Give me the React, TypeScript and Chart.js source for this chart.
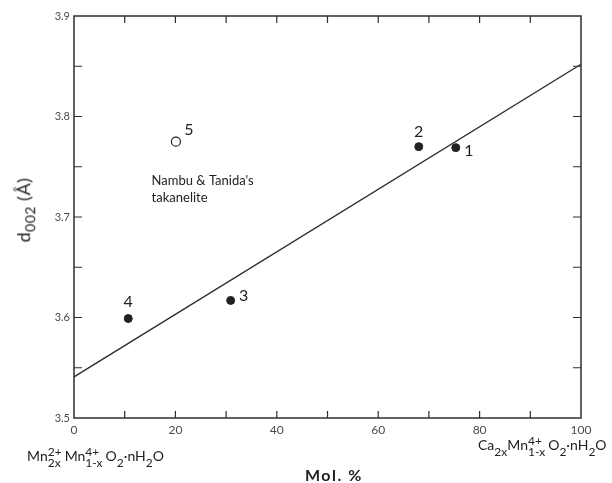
import React, { useEffect, useRef } from "react";
import { Chart, registerables } from "chart.js";

Chart.register(...registerables);

// ---- data ----
const sampleIds = ["1", "2", "3", "4"];
const sampleX = [75.3, 68.0, 30.9, 10.7];
const sampleY = [3.769, 3.770, 3.617, 3.599];
const openIds = ["5"];
const openX = [20.1];
const openY = [3.775];
const fitX = [0, 100];
const fitY = [3.541, 3.852];
const xTickValues = [0, 20, 40, 60, 80, 100];
const yTickValues = [3.5, 3.6, 3.7, 3.8, 3.9];
const noteLines = ["Nambu & Tanida's", "takanelite"];

const INK = "#2e2e2e";
const FONT = "Lato, 'DejaVu Sans', sans-serif";

const labelOffsets: Record<string, [number, number]> = {
  "1": [13, 3],
  "2": [0, -15],
  "3": [13, -5],
  "4": [0, -17],
  "5": [13, -12],
};

const framePlugin = {
  id: "frame",
  afterDatasetsDraw(chart: any) {
    const { ctx, chartArea: a, scales } = chart;
    const xs = scales.x;
    const ys = scales.y;
    ctx.save();
    ctx.strokeStyle = INK;
    ctx.lineWidth = 1.5;
    ctx.strokeRect(a.left, a.top, a.right - a.left, a.bottom - a.top);
    ctx.lineWidth = 1.2;
    for (let v = 10; v < 100; v += 10) {
      const px = xs.getPixelForValue(v);
      ctx.beginPath();
      ctx.moveTo(px, a.bottom);
      ctx.lineTo(px, a.bottom - 7);
      ctx.moveTo(px, a.top);
      ctx.lineTo(px, a.top + 7);
      ctx.stroke();
    }
    for (let i = 1; i < 8; i++) {
      const v = 3.5 + i * 0.05;
      const py = ys.getPixelForValue(v);
      ctx.beginPath();
      ctx.moveTo(a.left, py);
      ctx.lineTo(a.left + 8, py);
      ctx.moveTo(a.right, py);
      ctx.lineTo(a.right - 8, py);
      ctx.stroke();
    }
    ctx.fillStyle = "#222";
    ctx.font = `16px ${FONT}`;
    ctx.textAlign = "center";
    ctx.textBaseline = "middle";
    const allIds = [...sampleIds, ...openIds];
    const allX = [...sampleX, ...openX];
    const allY = [...sampleY, ...openY];
    allIds.forEach((id, i) => {
      const [dx, dy] = labelOffsets[id];
      ctx.fillText(id, xs.getPixelForValue(allX[i]) + dx, ys.getPixelForValue(allY[i]) + dy);
    });
    ctx.font = `13px ${FONT}`;
    ctx.textAlign = "left";
    const nx = xs.getPixelForValue(15.3);
    const ny = ys.getPixelForValue(3.736);
    noteLines.forEach((t, i) => ctx.fillText(t, nx, ny + i * 17));
    ctx.restore();
  },
};

function SupSub({ sup, sub }: { sup?: string; sub?: string }) {
  return (
    <span
      style={{
        display: "inline-flex",
        flexDirection: "column",
        verticalAlign: "middle",
        fontSize: 12,
        lineHeight: "11px",
        marginRight: sup ? 3 : 0,
      }}
    >
      <span style={{ height: 11 }}>{sup || ""}</span>
      <span style={{ height: 11 }}>{sub || ""}</span>
    </span>
  );
}

export default function App() {
  const canvasRef = useRef<HTMLCanvasElement | null>(null);

  useEffect(() => {
    if (!canvasRef.current) return;
    const chart = new Chart(canvasRef.current, {
      type: "scatter",
      data: {
        datasets: [
          {
            type: "line",
            label: "fit",
            data: fitX.map((x, i) => ({ x, y: fitY[i] })),
            borderColor: INK,
            borderWidth: 1.4,
            pointRadius: 0,
            fill: false,
          } as any,
          {
            label: "samples",
            data: sampleX.map((x, i) => ({ x, y: sampleY[i] })),
            backgroundColor: "#222",
            borderColor: "#222",
            pointRadius: 4,
          },
          {
            label: "Nambu & Tanida",
            data: openX.map((x, i) => ({ x, y: openY[i] })),
            backgroundColor: "#fff",
            borderColor: "#222",
            borderWidth: 1.2,
            pointRadius: 4.5,
          },
        ],
      },
      options: {
        responsive: false,
        devicePixelRatio: 1,
        animation: false,
        layout: { padding: { left: 0, top: 16, right: 31, bottom: 0 } },
        plugins: { legend: { display: false }, tooltip: { enabled: false } },
        scales: {
          x: {
            type: "linear",
            min: 0,
            max: 100,
            afterBuildTicks: (s: any) => {
              s.ticks = xTickValues.map((v) => ({ value: v }));
            },
            afterFit: (s: any) => {
              s.height = 65;
            },
            grid: { display: false, drawTicks: false },
            border: { display: false },
            ticks: {
              padding: 5,
              color: "#4a4a4a",
              font: { family: FONT, size: 12 },
              callback: (v: any) => String(v),
            },
          },
          y: {
            type: "linear",
            min: 3.5,
            max: 3.9,
            afterBuildTicks: (s: any) => {
              s.ticks = yTickValues.map((v) => ({ value: v }));
            },
            afterFit: (s: any) => {
              s.width = 74;
            },
            grid: { display: false, drawTicks: false },
            border: { display: false },
            ticks: {
              padding: 4,
              color: "#4a4a4a",
              font: { family: FONT, size: 11 },
              callback: (v: any) => Number(v).toFixed(1),
            },
          },
        },
      },
      plugins: [framePlugin],
    });
    return () => chart.destroy();
  }, []);

  return (
    <div
      style={{
        position: "fixed",
        left: 0,
        top: 0,
        width: 612,
        height: 483,
        background: "#fff",
        fontFamily: FONT,
        color: "#222",
      }}
    >
      <canvas ref={canvasRef} width={612} height={483} style={{ display: "block" }} />
      <div
        style={{
          position: "absolute",
          left: 25,
          top: 210,
          transform: "translate(-50%, -50%) rotate(-90deg)",
          whiteSpace: "nowrap",
          fontSize: 18,
          letterSpacing: 0.5,
        }}
      >
        d<sub style={{ fontSize: 14 }}>002</sub> (Å)
      </div>
      <div
        style={{
          position: "absolute",
          left: 305,
          top: 465,
          fontSize: 16,
          fontWeight: 700,
          letterSpacing: 1.5,
          whiteSpace: "nowrap",
        }}
      >
        Mol. %
      </div>
      <div style={{ position: "absolute", left: 27, top: 446, fontSize: 14, whiteSpace: "nowrap" }}>
        Mn<SupSub sup="2+" sub="2x" />Mn<SupSub sup="4+" sub="1-x" />O<SupSub sub="2" />·nH<SupSub sub="2" />O
      </div>
      <div style={{ position: "absolute", left: 478, top: 435, fontSize: 14, whiteSpace: "nowrap" }}>
        Ca<SupSub sub="2x" />Mn<SupSub sup="4+" sub="1-x" />O<SupSub sub="2" />·nH<SupSub sub="2" />O
      </div>
    </div>
  );
}
